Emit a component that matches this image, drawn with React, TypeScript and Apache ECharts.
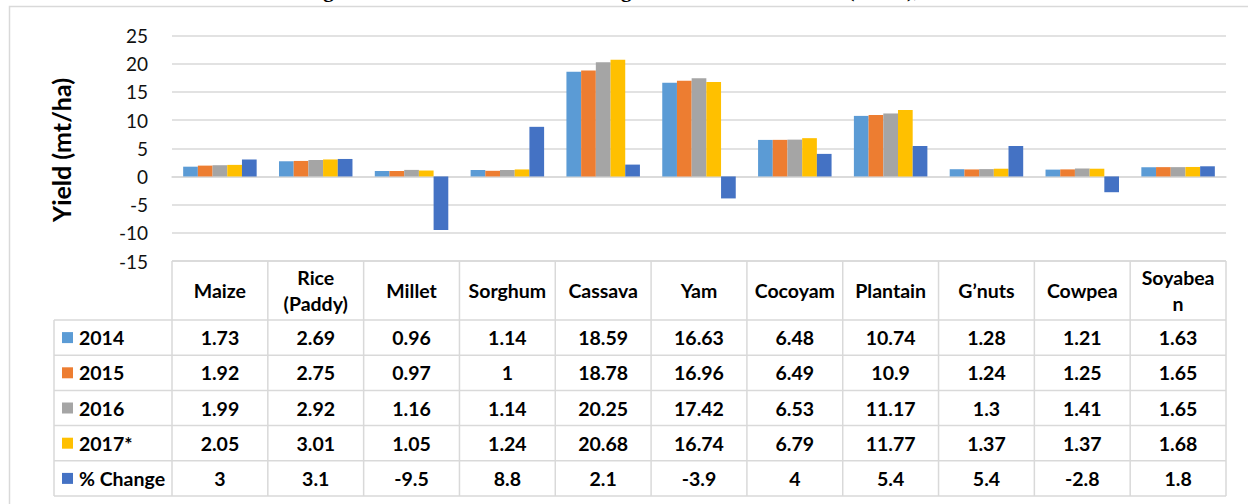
import React, { useEffect, useRef } from "react";
import * as echarts from "echarts";

// Crop yields (mt/ha) per year and the percentage change 2016-2017
const crops = ["Maize", "Rice\n(Paddy)", "Millet", "Sorghum", "Cassava", "Yam", "Cocoyam", "Plantain", "G’nuts", "Cowpea", "Soyabea\nn"];
const y2014 = [1.73, 2.69, 0.96, 1.14, 18.59, 16.63, 6.48, 10.74, 1.28, 1.21, 1.63];
const y2015 = [1.92, 2.75, 0.97, 1, 18.78, 16.96, 6.49, 10.9, 1.24, 1.25, 1.65];
const y2016 = [1.99, 2.92, 1.16, 1.14, 20.25, 17.42, 6.53, 11.17, 1.3, 1.41, 1.65];
const y2017 = [2.05, 3.01, 1.05, 1.24, 20.68, 16.74, 6.79, 11.77, 1.37, 1.37, 1.68];
const pctChange = [3, 3.1, -9.5, 8.8, 2.1, -3.9, 4, 5.4, 5.4, -2.8, 1.8];
const seriesNames = ["2014", "2015", "2016", "2017*", "% Change"];
const seriesColors = ["#5B9BD5", "#ED7D31", "#A5A5A5", "#FFC000", "#4472C4"];
const yMin = -15;
const yMax = 25;
const yStep = 5;

const W = 1248;
const H = 504;
const plotLeft = 172;
const plotRight = 1226;
const plotTop = 35.5;
const plotBottom = 261;
const legendLeft = 54;
const headerBottom = 320;
const rowH = 35.2;
const FONT = "Lato, 'Open Sans', 'Noto Sans', sans-serif";
const GRID = "#d9d9d9";
const TABLE_FONT = 19.5;

function buildTable(rows: number[][]) {
  const n = crops.length;
  const colW = (plotRight - plotLeft) / n;
  const tableBottom = headerBottom + rowH * rows.length;
  const els: any[] = [];
  const line = (x1: number, y1: number, x2: number, y2: number) =>
    els.push({ type: "line", silent: true, shape: { x1, y1, x2, y2 }, style: { stroke: GRID, lineWidth: 1.5 } });
  const text = (x: number, y: number, t: string, align: string) =>
    els.push({
      type: "text",
      silent: true,
      x,
      y,
      style: {
        text: t,
        fill: "#000",
        fontSize: TABLE_FONT,
        fontWeight: "bold",
        fontFamily: FONT,
        lineHeight: 26,
        align,
        textAlign: align,
        verticalAlign: "middle",
        textVerticalAlign: "middle",
      },
    });

  // horizontal rules
  line(plotLeft, plotBottom, plotRight, plotBottom);
  for (let r = 0; r <= rows.length; r++) {
    const y = headerBottom + rowH * r;
    line(legendLeft, y, plotRight, y);
  }
  // vertical rules
  line(legendLeft, headerBottom, legendLeft, tableBottom);
  for (let c = 0; c <= n; c++) {
    const x = plotLeft + colW * c;
    line(x, plotBottom, x, tableBottom);
  }
  // header
  crops.forEach((name, c) => text(plotLeft + colW * (c + 0.5), (plotBottom + headerBottom) / 2, name, "center"));
  // rows with legend keys
  rows.forEach((vals, r) => {
    const cy = headerBottom + rowH * (r + 0.5);
    els.push({
      type: "rect",
      silent: true,
      shape: { x: 62, y: cy - 5.5, width: 11, height: 11 },
      style: { fill: seriesColors[r] },
    });
    text(79, cy, seriesNames[r], "left");
    vals.forEach((v, c) => text(plotLeft + colW * (c + 0.5), cy, String(v), "center"));
  });
  return els;
}

export default function App() {
  const ref = useRef<HTMLDivElement>(null);

  useEffect(() => {
    if (!ref.current) return;
    const chart = echarts.init(ref.current, null, { renderer: "svg" });
    const rows = [y2014, y2015, y2016, y2017, pctChange];

    chart.setOption({
      animation: false,
      backgroundColor: "#ffffff",
      grid: { left: plotLeft, right: W - plotRight, top: plotTop, bottom: H - plotBottom, containLabel: false },
      xAxis: {
        type: "category",
        data: crops,
        axisLine: { show: true, onZero: true, lineStyle: { color: GRID, width: 1.5 } },
        axisTick: { show: false },
        axisLabel: { show: false },
        splitLine: { show: false },
      },
      yAxis: {
        type: "value",
        min: yMin,
        max: yMax,
        interval: yStep,
        axisLine: { show: false },
        axisTick: { show: false },
        axisLabel: { color: "#111", fontSize: 19, fontFamily: FONT, margin: 24 },
        splitLine: { lineStyle: { color: GRID, width: 1.5 } },
      },
      series: rows.map((data, i) => ({
        name: seriesNames[i],
        type: "bar",
        data,
        barWidth: 14.7,
        barGap: "0%",
        itemStyle: { color: seriesColors[i] },
      })),
      graphic: [
        {
          type: "rect",
          silent: true,
          shape: { x: 9.5, y: 6.5, width: 1400, height: 700 },
          style: { fill: "none", stroke: GRID, lineWidth: 1.5 },
          z: -1,
        },
        {
          type: "text",
          silent: true,
          x: 660,
          y: -10,
          style: {
            text: "Figure 2: Yield Levels of Selected Agricultural Commodities (mt/ha), 2014-2017",
            fill: "#000",
            fontSize: 21,
            fontWeight: "bold",
            fontFamily: "'Liberation Serif', 'DejaVu Serif', serif",
            align: "center",
            textAlign: "center",
            verticalAlign: "middle",
            textVerticalAlign: "middle",
          },
        },
        {
          type: "text",
          silent: true,
          x: 61,
          y: 150,
          rotation: Math.PI / 2,
          style: {
            text: "Yield (mt/ha)",
            fill: "#000",
            fontSize: 25,
            fontWeight: "bold",
            fontFamily: FONT,
            align: "center",
            textAlign: "center",
            verticalAlign: "middle",
            textVerticalAlign: "middle",
          },
        },
        ...buildTable(rows),
      ],
    });

    return () => chart.dispose();
  }, []);

  return <div ref={ref} style={{ position: "fixed", left: 0, top: 0, width: W, height: H }} />;
}
